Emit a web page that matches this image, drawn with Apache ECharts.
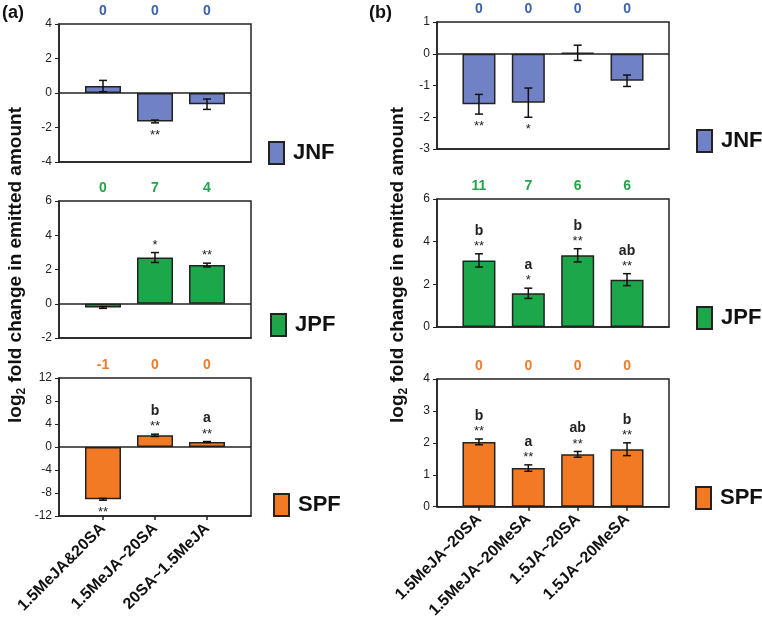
<!DOCTYPE html>
<html><head><meta charset="utf-8">
<script src="https://cdn.jsdelivr.net/npm/echarts@6/dist/echarts.min.js"></script>
<style>html,body{margin:0;padding:0;background:#fff}#c{width:762px;height:621px}</style>
</head><body><div id="c"></div>
<script>
// ---------- data ----------
const catsA = ['1.5MeJA&20SA', '1.5MeJA~20SA', '20SA~1.5MeJA'];
const catsB = ['1.5MeJA~20SA', '1.5MeJA~20MeSA', '1.5JA~20SA', '1.5JA~20MeSA'];

const jnfA = [0.40, -1.65, -0.65];
const jnfAErr = [0.33, 0.08, 0.30];
const jnfAStars = ['', '**', ''];
const jnfALetters = ['', '', ''];
const jnfACounts = ['0', '0', '0'];

const jpfA = [-0.22, 2.70, 2.26];
const jpfAErr = [0.05, 0.29, 0.11];
const jpfAStars = ['', '*', '**'];
const jpfALetters = ['', '', ''];
const jpfACounts = ['0', '7', '4'];

const spfA = [-9.1, 2.03, 0.87];
const spfAErr = [0.15, 0.20, 0.08];
const spfAStars = ['**', '**', '**'];
const spfALetters = ['', 'b', 'a'];
const spfACounts = ['-1', '0', '0'];

const jnfB = [-1.59, -1.54, 0.03, -0.85];
const jnfBErr = [0.31, 0.46, 0.24, 0.18];
const jnfBStars = ['**', '*', '', ''];
const jnfBLetters = ['', '', '', ''];
const jnfBCounts = ['0', '0', '0', '0'];

const jpfB = [3.12, 1.58, 3.36, 2.22];
const jpfBErr = [0.31, 0.24, 0.31, 0.28];
const jpfBStars = ['**', '*', '**', '**'];
const jpfBLetters = ['b', 'a', 'b', 'ab'];
const jpfBCounts = ['11', '7', '6', '6'];

const spfB = [2.03, 1.21, 1.64, 1.80];
const spfBErr = [0.09, 0.10, 0.09, 0.20];
const spfBStars = ['**', '**', '**', '**'];
const spfBLetters = ['b', 'a', 'ab', 'b'];
const spfBCounts = ['0', '0', '0', '0'];

const yTitle = ['log', '2', ' fold change in emitted amount'];

// ---------- styles ----------
const FONT = '"Liberation Sans", Arial, Helvetica, sans-serif';
const INK = '#222';
const COL = { JNF: '#7181c5', JPF: '#1ca74b', SPF: '#f37a24' };
const CNT = { JNF: '#3a63ae', JPF: '#22a548', SPF: '#ef7a2a' };

const panels = [
  { name: 'JNF', cats: catsA, vals: jnfA, err: jnfAErr, stars: jnfAStars, letters: jnfALetters, counts: jnfACounts,
    y: [-4, 4, 2], grid: [59, 24, 192, 138], pad: 0.846, bw: 36, showCats: false, zero: true, leg: [268, 141] },
  { name: 'JPF', cats: catsA, vals: jpfA, err: jpfAErr, stars: jpfAStars, letters: jpfALetters, counts: jpfACounts,
    y: [-2, 6, 2], grid: [59, 201, 192, 137], pad: 0.846, bw: 36, showCats: false, zero: true, leg: [270, 313] },
  { name: 'SPF', cats: catsA, vals: spfA, err: spfAErr, stars: spfAStars, letters: spfALetters, counts: spfACounts,
    y: [-12, 12, 4], grid: [59, 378, 192, 138], pad: 0.846, bw: 36, showCats: true, zero: true, leg: [273, 493] },
  { name: 'JNF', cats: catsB, vals: jnfB, err: jnfBErr, stars: jnfBStars, letters: jnfBLetters, counts: jnfBCounts,
    y: [-3, 1, 1], grid: [437, 22, 232, 127], pad: 0.85, bw: 33, showCats: false, zero: true, leg: [696, 129] },
  { name: 'JPF', cats: catsB, vals: jpfB, err: jpfBErr, stars: jpfBStars, letters: jpfBLetters, counts: jpfBCounts,
    y: [0, 6, 2], grid: [437, 199, 232, 128], pad: 0.85, bw: 33, showCats: false, zero: false, leg: [696, 306] },
  { name: 'SPF', cats: catsB, vals: spfB, err: spfBErr, stars: spfBStars, letters: spfBLetters, counts: spfBCounts,
    y: [0, 4, 1], grid: [437, 379, 232, 129], pad: 0.85, bw: 33, showCats: true, zero: false, leg: [695, 486] }
];

function makeRender(p) {
  return function (params, api) {
    const i = params.dataIndex;
    const x = api.value(0), v = api.value(1), e = api.value(2);
    const hi = api.coord([x, v + e]), lo = api.coord([x, v - e]);
    const cap = 4;
    const ls = { stroke: '#111', lineWidth: 1.5 };
    const ch = [
      { type: 'line', shape: { x1: hi[0], y1: hi[1], x2: lo[0], y2: lo[1] }, style: ls },
      { type: 'line', shape: { x1: hi[0] - cap, y1: hi[1], x2: hi[0] + cap, y2: hi[1] }, style: ls },
      { type: 'line', shape: { x1: lo[0] - cap, y1: lo[1], x2: lo[0] + cap, y2: lo[1] }, style: ls }
    ];
    const s = p.stars[i], l = p.letters[i];
    if (v >= 0) {
      if (s) ch.push({ type: 'text', style: { text: s, x: hi[0], y: hi[1] - 1, align: 'center', verticalAlign: 'bottom',
        fontSize: 13, fontFamily: FONT, fill: INK } });
      if (l) ch.push({ type: 'text', style: { text: l, x: hi[0], y: hi[1] - 16, align: 'center', verticalAlign: 'bottom',
        fontSize: 14, fontWeight: 'bold', fontFamily: FONT, fill: INK } });
    } else {
      if (s) ch.push({ type: 'text', style: { text: s, x: lo[0], y: lo[1] + 6, align: 'center', verticalAlign: 'top',
        fontSize: 13, fontFamily: FONT, fill: INK } });
    }
    return { type: 'group', children: ch };
  };
}

const grids = [], xAxes = [], yAxes = [], series = [], legends = [];
panels.forEach((p, k) => {
  const n = p.cats.length;
  const idx = p.cats.map((_, i) => i);
  grids.push({ left: p.grid[0], top: p.grid[1], width: p.grid[2], height: p.grid[3], show: true,
    borderColor: INK, borderWidth: 1.5, containLabel: false });
  const lineStyle = { color: INK, width: 1.5 };
  xAxes.push({ type: 'value', gridIndex: k, min: -p.pad, max: n - 1 + p.pad, position: 'bottom',
    axisLine: { show: true, onZero: false, lineStyle },
    axisTick: { show: p.showCats, customValues: idx, length: 4, lineStyle },
    axisLabel: { show: p.showCats, customValues: idx, formatter: v => p.cats[Math.round(v)], rotate: 45, margin: 10,
      fontSize: 16, fontWeight: 'bold', color: '#111', fontFamily: FONT },
    splitLine: { show: false } });
  xAxes.push({ type: 'value', gridIndex: k, min: -p.pad, max: n - 1 + p.pad, position: 'top',
    axisLine: { show: false }, axisTick: { show: false }, splitLine: { show: false },
    axisLabel: { customValues: idx, formatter: v => p.counts[Math.round(v)], margin: 6,
      fontSize: 14, fontWeight: 'bold', color: CNT[p.name], fontFamily: FONT } });
  yAxes.push({ type: 'value', gridIndex: k, min: p.y[0], max: p.y[1], interval: p.y[2],
    axisLine: { show: true, onZero: false, lineStyle },
    axisTick: { show: true, length: 4, lineStyle: { color: INK, width: 1 } },
    axisLabel: { fontSize: 12, color: INK, margin: 7, fontFamily: FONT },
    splitLine: { show: false } });
  const bar = { type: 'bar', name: p.name, xAxisIndex: 2 * k, yAxisIndex: k,
    data: p.vals.map((v, i) => [i, v]), barWidth: p.bw,
    itemStyle: { color: COL[p.name], borderColor: INK, borderWidth: 1.5 }, z: 2 };
  if (p.zero) bar.markLine = { silent: true, symbol: 'none', label: { show: false },
    lineStyle: { color: INK, width: 1.5, type: 'solid' }, data: [{ yAxis: 0 }], z: 3 };
  series.push(bar);
  series.push({ type: 'custom', name: p.name + ' err', xAxisIndex: 2 * k, yAxisIndex: k,
    data: p.vals.map((v, i) => [i, v, p.err[i]]), renderItem: makeRender(p), z: 5 });
  legends.push({ data: [p.name], left: p.leg[0], top: p.leg[1], padding: 0, itemWidth: 15, itemHeight: 22,
    icon: 'rect', selectedMode: false,
    textStyle: { fontSize: 22, fontWeight: 'bold', color: '#111', fontFamily: FONT, padding: [0, 0, 0, 4] } });
});

function titleText(x) {
  return { type: 'text', x: x, y: 265, rotation: Math.PI / 2,
    style: { text: '{a|' + yTitle[0] + '}{s|' + yTitle[1] + '}{a|' + yTitle[2] + '}',
      align: 'center', verticalAlign: 'middle',
      rich: { a: { fontSize: 19, fontWeight: 'bold', fontFamily: FONT, fill: '#111', lineHeight: 24 },
              s: { fontSize: 12, fontWeight: 'bold', fontFamily: FONT, fill: '#111', lineHeight: 12, verticalAlign: 'bottom' } } } };
}

const chart = echarts.init(document.getElementById('c'), null, { renderer: 'canvas' });
chart.setOption({
  animation: false,
  backgroundColor: '#fff',
  grid: grids, xAxis: xAxes, yAxis: yAxes, series: series, legend: legends,
  graphic: [
    { type: 'text', left: 2, top: 4, style: { text: '(a)', fontSize: 18, fontWeight: 'bold', fontFamily: FONT, fill: '#111' } },
    { type: 'text', left: 369, top: 4, style: { text: '(b)', fontSize: 18, fontWeight: 'bold', fontFamily: FONT, fill: '#111' } },
    titleText(16), titleText(398)
  ]
});
</script></body></html>
